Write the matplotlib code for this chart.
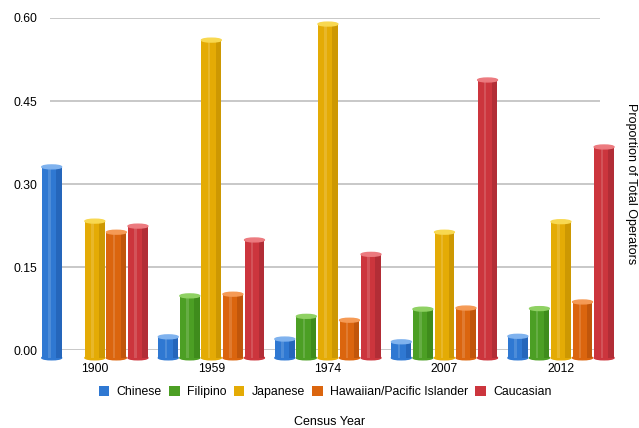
import numpy as np
import matplotlib
matplotlib.use("Agg")
import matplotlib.pyplot as plt
from matplotlib.patches import Patch, Ellipse

plt.rcParams['font.family'] = ['Liberation Sans', 'DejaVu Sans']

years = ['1900', '1959', '1974', '2007', '2012']
groups = ['Chinese', 'Filipino', 'Japanese', 'Hawaiian/Pacific Islander', 'Caucasian']
chinese = [0.331, 0.024, 0.020, 0.015, 0.025]
filipino = [0.0, 0.098, 0.061, 0.074, 0.075]
japanese = [0.233, 0.560, 0.589, 0.213, 0.232]
hawaiian = [0.213, 0.101, 0.054, 0.076, 0.087]
caucasian = [0.224, 0.199, 0.173, 0.488, 0.367]
yticks = [0.0, 0.15, 0.30, 0.45, 0.60]

colors = ['#2f78d2', '#4c9f24', '#e4ab05', '#db650e', '#cc353d']
dark = ['#1d55a5', '#347a16', '#b88700', '#a9480a', '#9a2630']
light = ['#7fb2ee', '#8fd163', '#f8d850', '#f59a55', '#ec7a7f']

series = [chinese, filipino, japanese, hawaiian, caucasian]

fig = plt.figure(figsize=(6.39, 4.28), dpi=100)
ax = fig.add_axes([0.078, 0.182, 0.861, 0.776])

x = np.arange(len(years))
pitch = 0.185
width = 0.17
base = -0.014
cap = 0.007

for i, vals in enumerate(series):
    pos = x + (i - 2) * pitch
    for xp, v in zip(pos, vals):
        if v <= 0:
            continue
        # body of the cylinder
        ax.bar(xp, v - base, width, bottom=base, color=colors[i], zorder=3, clip_on=False)
        # shaded right side and a soft highlight
        ax.bar(xp + width * 0.36, v - base, width * 0.28, bottom=base, color=dark[i],
               alpha=0.5, zorder=4, clip_on=False)
        ax.bar(xp - width * 0.12, v - base, width * 0.12, bottom=base, color='white',
               alpha=0.15, zorder=4, clip_on=False)
        # rounded bottom and top cap
        ax.add_patch(Ellipse((xp, base), width, cap, color=colors[i], zorder=3, clip_on=False))
        ax.add_patch(Ellipse((xp, v), width, cap, color=light[i], zorder=5, clip_on=False))

ax.set_xlim(-0.386, 4.335)
ax.set_ylim(0, 0.6)
ax.set_yticks(yticks)
ax.set_yticklabels(['%.2f' % t for t in yticks], fontsize=8.8)
ax.set_xticks(x)
ax.set_xticklabels(years, fontsize=8.8)
ax.tick_params(axis='x', length=0, pad=9)
ax.tick_params(axis='y', length=0, pad=9)
ax.yaxis.grid(True, color='#c8c8c8', linewidth=1.4, zorder=0)
for s in ax.spines.values():
    s.set_visible(False)

# y axis title sits on the far right, reading top to bottom
fig.text(0.988, 0.57, 'Proportion of Total Operators', rotation=270,
         ha='center', va='center', fontsize=9)

handles = [Patch(facecolor=c, label=g) for c, g in zip(colors, groups)]
fig.legend(handles=handles, loc='center', bbox_to_anchor=(0.509, 0.084), ncol=5,
           frameon=False, fontsize=8.8, handlelength=0.85, handleheight=0.85,
           handletextpad=0.6, columnspacing=0.6)
fig.text(0.516, 0.014, 'Census Year', ha='center', va='center', fontsize=9)

fig.savefig('out.png', dpi=100)
